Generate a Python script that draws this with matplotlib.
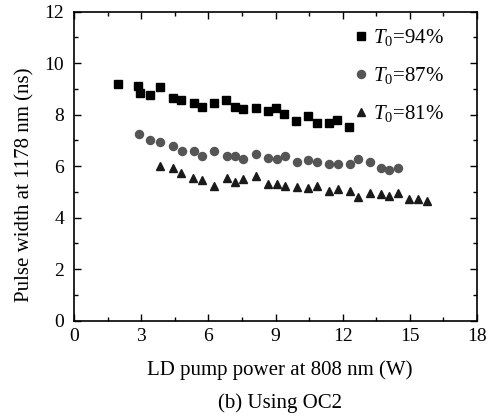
import matplotlib
matplotlib.use("Agg")
import matplotlib.pyplot as plt
from matplotlib.ticker import MultipleLocator

plt.rcParams['font.family'] = ['Liberation Serif', 'DejaVu Serif']
plt.rcParams['mathtext.fontset'] = 'custom'
plt.rcParams['mathtext.rm'] = 'Liberation Serif'
plt.rcParams['mathtext.it'] = 'Liberation Serif:italic'

x94 = [1.97, 2.87, 2.94, 3.39, 3.83, 4.40, 4.77, 5.35, 5.72, 6.24, 6.80, 7.17, 7.55,
       8.11, 8.66, 9.03, 9.40, 9.92, 10.44, 10.84, 11.38, 11.75, 12.30]
y94 = [9.19, 9.11, 8.83, 8.77, 9.06, 8.64, 8.57, 8.44, 8.31, 8.44, 8.57, 8.31, 8.22,
       8.27, 8.14, 8.25, 8.03, 7.76, 7.96, 7.69, 7.69, 7.79, 7.53]

x87 = [2.92, 3.39, 3.84, 4.41, 4.81, 5.36, 5.73, 6.25, 6.82, 7.19, 7.56, 8.13, 8.68,
       9.05, 9.42, 9.94, 10.46, 10.87, 11.40, 11.78, 12.33, 12.67, 13.22, 13.70, 14.08, 14.46]
y87 = [7.25, 7.02, 6.93, 6.80, 6.60, 6.60, 6.41, 6.60, 6.41, 6.41, 6.28, 6.47, 6.31,
       6.28, 6.40, 6.16, 6.24, 6.16, 6.09, 6.09, 6.09, 6.27, 6.16, 5.92, 5.85, 5.94]

x81 = [3.84, 4.41, 4.78, 5.33, 5.73, 6.25, 6.82, 7.19, 7.56, 8.13, 8.68, 9.05, 9.42,
       9.94, 10.46, 10.87, 11.40, 11.78, 12.33, 12.67, 13.22, 13.70, 14.08, 14.46,
       14.98, 15.35, 15.75]
y81 = [6.01, 5.94, 5.72, 5.53, 5.46, 5.24, 5.53, 5.37, 5.50, 5.62, 5.31, 5.31, 5.24,
       5.20, 5.17, 5.24, 5.04, 5.10, 5.04, 4.82, 4.97, 4.92, 4.84, 4.95, 4.73, 4.71, 4.65]

labels = [r'$T_{\mathrm{0}}$=94%', r'$T_{\mathrm{0}}$=87%', r'$T_{\mathrm{0}}$=81%']
xticks = [0, 3, 6, 9, 12, 15, 18]
yticks = [0, 2, 4, 6, 8, 10, 12]

fig = plt.figure(figsize=(4.94, 4.2), dpi=100)
ax = fig.add_axes([0.1498, 0.2364, 0.8158, 0.7358])

ax.plot(x94, y94, 's', color='black', markersize=5.3, label=labels[0], linestyle='none')
ax.plot(x87, y87, 'o', color='#555555', markersize=5.8, label=labels[1], linestyle='none')
ax.plot(x81, y81, '^', color='#1a1a1a', markersize=6.2, label=labels[2], linestyle='none')

ax.set_xlim(0, 18)
ax.set_ylim(0, 12)
ax.set_xticks(xticks)
ax.set_yticks(yticks)
ax.xaxis.set_minor_locator(MultipleLocator(1.5))
ax.yaxis.set_minor_locator(MultipleLocator(1))
ax.tick_params(which='both', direction='in', top=True, right=True, labelsize=14, width=1.0)
ax.tick_params(which='major', length=5)
ax.tick_params(which='minor', length=3)
ax.tick_params(axis='x', which='major', pad=5)
ax.tick_params(axis='y', which='major', pad=7)
for s in ax.spines.values():
    s.set_linewidth(1.2)

ax.set_xlabel('LD pump power at 808 nm (W)', fontsize=15, va='center')
ax.xaxis.set_label_coords(0.51, -0.16)
ax.set_ylabel('Pulse width at 1178 nm (ns)', fontsize=15, va='center')
ax.yaxis.set_label_coords(-0.1216, 0.439)
fig.text(280 / 494, 1 - 403 / 420, '(b) Using OC2', ha='center', va='center', fontsize=15)

ax.legend(loc='upper left', frameon=False, fontsize=15, handletextpad=0.2,
          labelspacing=0.82, borderaxespad=0, borderpad=0, handlelength=0.75,
          bbox_to_anchor=(0.692, 0.950))

fig.savefig('out.png', dpi=100)
